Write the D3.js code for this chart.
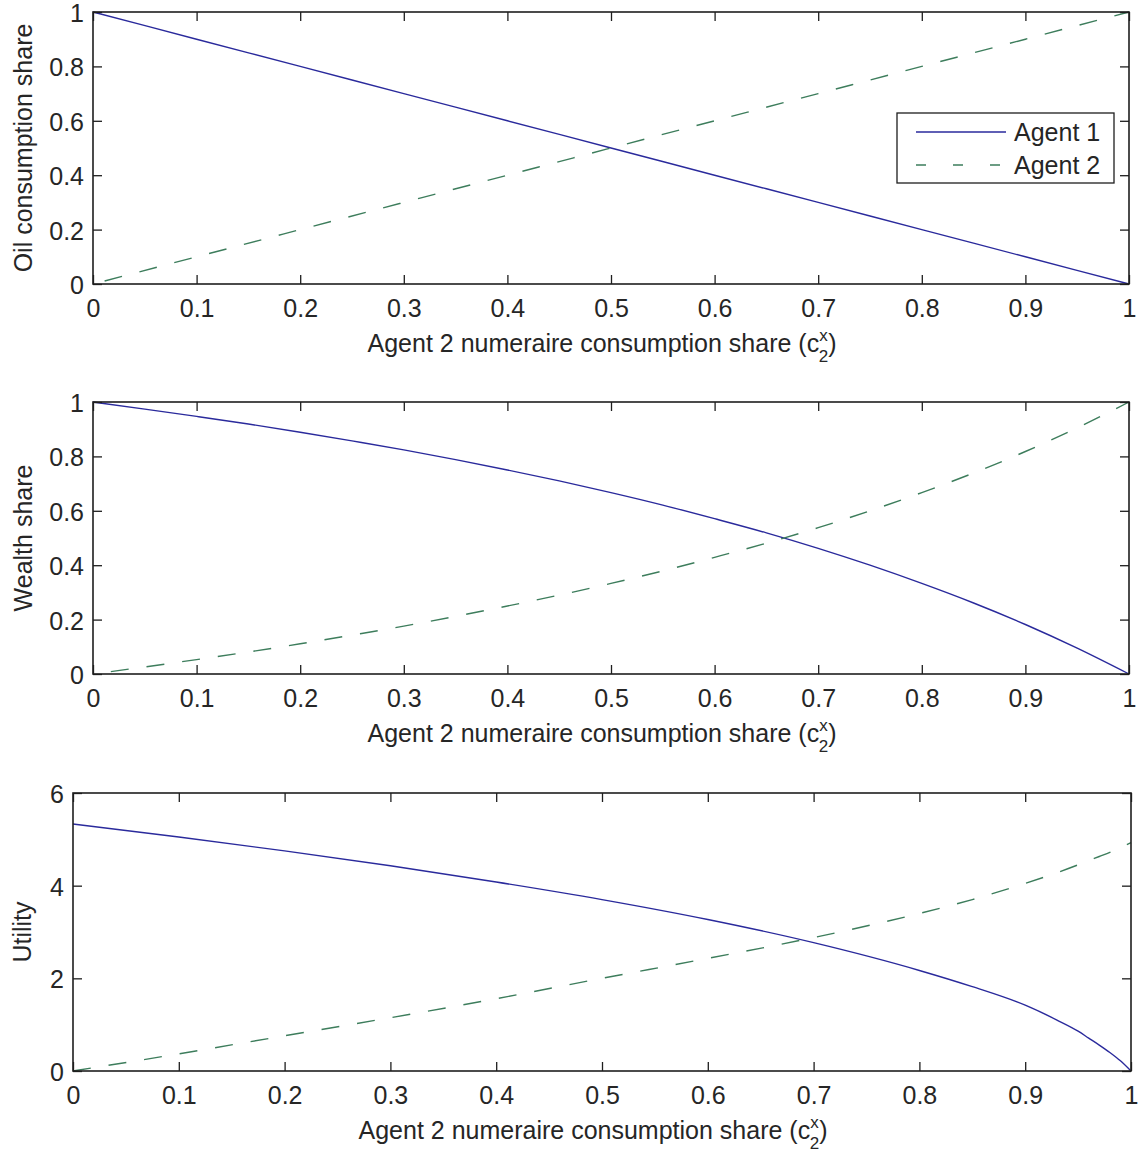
<!DOCTYPE html>
<html>
<head>
<meta charset="utf-8">
<script src="https://cdn.jsdelivr.net/npm/d3@7"></script>
<style>
  html, body { margin: 0; padding: 0; background: #fff; }
  svg { display: block; font-family: "Liberation Sans", Arial, Helvetica, sans-serif; }
</style>
</head>
<body>
<div id="chart"></div>
<script>
// ---------------- Data ----------------
const xTicks = [0, 0.1, 0.2, 0.3, 0.4, 0.5, 0.6, 0.7, 0.8, 0.9, 1];
const xTickLabels = ["0", "0.1", "0.2", "0.3", "0.4", "0.5", "0.6", "0.7", "0.8", "0.9", "1"];
const shareTicks = [0, 0.2, 0.4, 0.6, 0.8, 1];
const shareTickLabels = ["0", "0.2", "0.4", "0.6", "0.8", "1"];
const utilTicks = [0, 2, 4, 6];
const utilTickLabels = ["0", "2", "4", "6"];

const seriesNames = ["Agent 1", "Agent 2"];

// Panel 1: oil consumption share
const oilX = [0, 0.1, 0.2, 0.3, 0.4, 0.5, 0.6, 0.7, 0.8, 0.9, 1];
const oilAgent1 = [1, 0.9, 0.8, 0.7, 0.6, 0.5, 0.4, 0.3, 0.2, 0.1, 0];
const oilAgent2 = [0, 0.1, 0.2, 0.3, 0.4, 0.5, 0.6, 0.7, 0.8, 0.9, 1];

// Panel 2: wealth share
const wealthX = [0, 0.05, 0.1, 0.15, 0.2, 0.25, 0.3, 0.35, 0.4, 0.45, 0.5,
                 0.55, 0.6, 0.65, 0.7, 0.75, 0.8, 0.85, 0.9, 0.95, 1];
const wealthAgent1 = [1, 0.974, 0.947, 0.919, 0.889, 0.857, 0.824, 0.788, 0.75, 0.71, 0.667,
                      0.621, 0.571, 0.519, 0.462, 0.4, 0.333, 0.261, 0.182, 0.095, 0];
const wealthAgent2 = [0, 0.026, 0.053, 0.081, 0.111, 0.143, 0.176, 0.212, 0.25, 0.29, 0.333,
                      0.379, 0.429, 0.481, 0.538, 0.6, 0.667, 0.739, 0.818, 0.905, 1];

// Panel 3: utility
const utilX = [0, 0.1, 0.2, 0.3, 0.4, 0.5, 0.6, 0.7, 0.8, 0.85, 0.9, 0.93, 0.95, 0.96, 0.97, 0.98, 0.99, 1];
const utilAgent1 = [5.33, 5.05, 4.75, 4.43, 4.08, 3.70, 3.27, 2.77, 2.17, 1.82, 1.42, 1.10, 0.86, 0.71, 0.56, 0.40, 0.22, 0];
const utilAgent2 = [0, 0.37, 0.76, 1.15, 1.56, 2.0, 2.43, 2.88, 3.4, 3.7, 4.05, 4.28, 4.45, 4.54, 4.63, 4.72, 4.82, 4.93];

// ---------------- Drawing ----------------
const W = 1138, H = 1160;
const FONT = 25;
const colAgent1 = "#2a2a9c";
const colAgent2 = "#3d7d5c";
const axisCol = "#1e1e1e";

const svg = d3.select("#chart").append("svg")
  .attr("width", W).attr("height", H);

const xLabelText = "Agent 2 numeraire consumption share (c";

function drawPanel(cfg) {
  const x = d3.scaleLinear().domain([0, 1]).range([cfg.left, cfg.right]);
  const y = d3.scaleLinear().domain(cfg.yDomain).range([cfg.bottom, cfg.top]);
  const g = svg.append("g");

  const line = d3.line().x((d) => x(d[0])).y((d) => y(d[1])).curve(d3.curveMonotoneX);
  g.append("path")
    .datum(cfg.xs.map((v, i) => [v, cfg.a1[i]]))
    .attr("d", line).attr("fill", "none")
    .attr("stroke", colAgent1).attr("stroke-width", 1.4);
  g.append("path")
    .datum(cfg.xs.map((v, i) => [v, cfg.a2[i]]))
    .attr("d", line).attr("fill", "none")
    .attr("stroke", colAgent2).attr("stroke-width", 1.4)
    .attr("stroke-dasharray", "18,18")
    .attr("stroke-dashoffset", cfg.dashOffset);

  const styleAxis = (sel) => {
    sel.select(".domain").remove();
    sel.selectAll(".tick line").attr("stroke", axisCol).attr("stroke-width", 1.3);
    sel.selectAll(".tick text").attr("fill", "#262626")
      .style("font-size", FONT + "px")
      .style("font-family", '"Liberation Sans", Arial, Helvetica, sans-serif');
  };
  const fmtX = (d) => xTickLabels[xTicks.indexOf(d)];
  const fmtY = (d) => cfg.yTickLabels[cfg.yTicks.indexOf(d)];

  g.append("g").attr("transform", `translate(0,${cfg.bottom})`)
    .call(d3.axisBottom(x).tickValues(xTicks).tickFormat(fmtX).tickSizeInner(-9).tickSizeOuter(0).tickPadding(15))
    .call(styleAxis);
  g.append("g").attr("transform", `translate(0,${cfg.top})`)
    .call(d3.axisTop(x).tickValues(xTicks).tickFormat("").tickSizeInner(-9).tickSizeOuter(0))
    .call(styleAxis);
  g.append("g").attr("transform", `translate(${cfg.left},0)`)
    .call(d3.axisLeft(y).tickValues(cfg.yTicks).tickFormat(fmtY).tickSizeInner(-9).tickSizeOuter(0).tickPadding(9))
    .call(styleAxis)
    .call((sel) => sel.selectAll(".tick text").attr("dy", "0.38em"));
  g.append("g").attr("transform", `translate(${cfg.right},0)`)
    .call(d3.axisRight(y).tickValues(cfg.yTicks).tickFormat("").tickSizeInner(-9).tickSizeOuter(0))
    .call(styleAxis);

  g.append("rect")
    .attr("x", cfg.left).attr("y", cfg.top)
    .attr("width", cfg.right - cfg.left).attr("height", cfg.bottom - cfg.top)
    .attr("fill", "none").attr("stroke", axisCol).attr("stroke-width", 1.6);

  const t = g.append("text")
    .attr("x", (cfg.left + cfg.right) / 2 - 9)
    .attr("y", cfg.bottom + 68)
    .attr("text-anchor", "middle")
    .attr("fill", "#262626")
    .style("font-size", FONT + "px");
  t.append("tspan").text(xLabelText);
  t.append("tspan").attr("dy", -11).style("font-size", "17px").text("x");
  t.append("tspan").attr("dx", -9).attr("dy", 21).style("font-size", "17px").text("2");
  t.append("tspan").attr("dy", -10).text(")");

  g.append("text")
    .attr("transform", `translate(${cfg.yLabelX},${(cfg.top + cfg.bottom) / 2}) rotate(-90)`)
    .attr("text-anchor", "middle")
    .attr("fill", "#262626")
    .style("font-size", FONT + "px")
    .text(cfg.yLabel);

  return { g, x, y };
}

drawPanel({
  left: 93, right: 1129, top: 12, bottom: 284,
  yDomain: [0, 1], yTicks: shareTicks, yTickLabels: shareTickLabels,
  xs: oilX, a1: oilAgent1, a2: oilAgent2, dashOffset: 24,
  yLabel: "Oil consumption share", yLabelX: 32
});

drawPanel({
  left: 93, right: 1129, top: 402, bottom: 674,
  yDomain: [0, 1], yTicks: shareTicks, yTickLabels: shareTickLabels,
  xs: wealthX, a1: wealthAgent1, a2: wealthAgent2, dashOffset: 18,
  yLabel: "Wealth share", yLabelX: 32
});

drawPanel({
  left: 73, right: 1131, top: 793, bottom: 1071,
  yDomain: [0, 6], yTicks: utilTicks, yTickLabels: utilTickLabels,
  xs: utilX, a1: utilAgent1, a2: utilAgent2, dashOffset: 0,
  yLabel: "Utility", yLabelX: 31
});

// legend in panel 1
const lg = svg.append("g");
lg.append("rect").attr("x", 897).attr("y", 113).attr("width", 217).attr("height", 70)
  .attr("fill", "#fff").attr("stroke", axisCol).attr("stroke-width", 1.3);
const legendRows = [
  { name: seriesNames[0], color: colAgent1, dash: null, y: 132 },
  { name: seriesNames[1], color: colAgent2, dash: "10,27", y: 165 }
];
legendRows.forEach((r) => {
  const l = lg.append("line").attr("x1", 916).attr("x2", 1006).attr("y1", r.y).attr("y2", r.y)
    .attr("stroke", r.color).attr("stroke-width", 1.4);
  if (r.dash) l.attr("stroke-dasharray", r.dash);
  lg.append("text").attr("x", 1014).attr("y", r.y + 9)
    .attr("fill", "#262626").style("font-size", FONT + "px").text(r.name);
});
</script>
</body>
</html>
